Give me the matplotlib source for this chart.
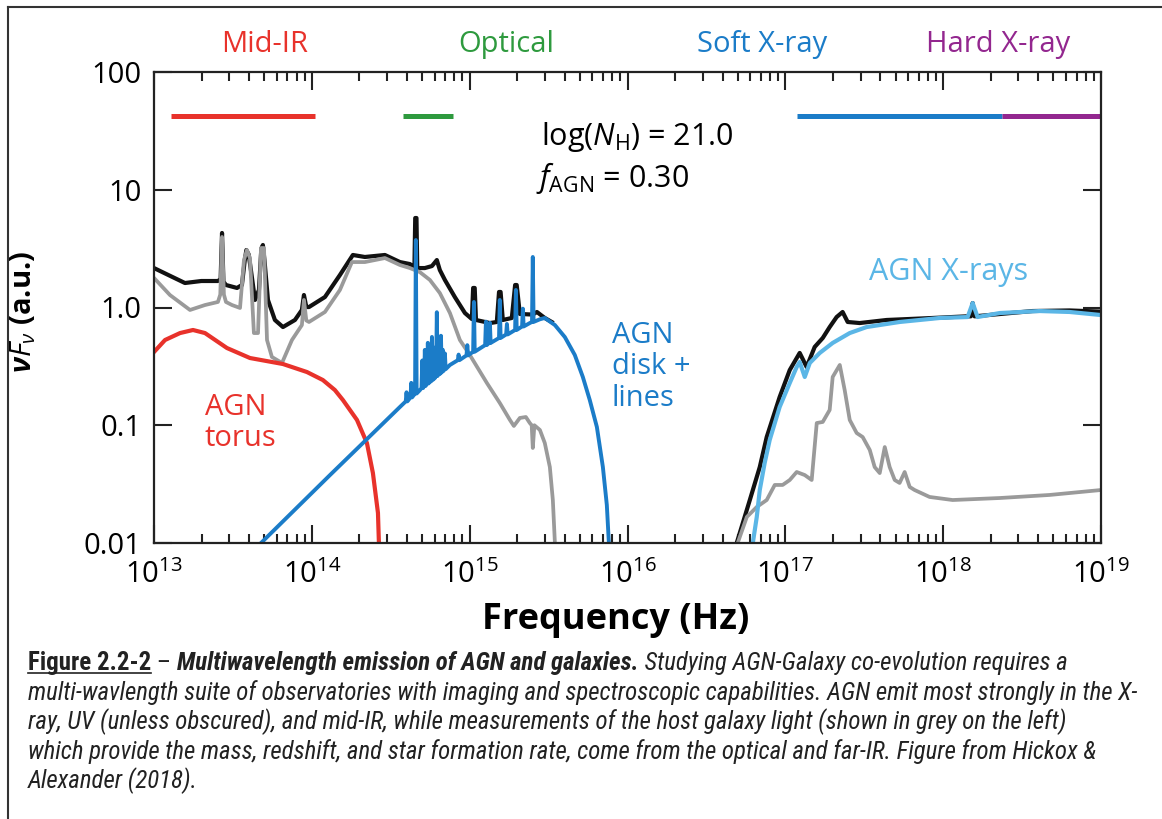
import matplotlib
matplotlib.use("Agg")
import matplotlib.pyplot as plt
import numpy as np
from matplotlib.lines import Line2D
from matplotlib import font_manager
from matplotlib.font_manager import FontProperties

plt.rcParams['font.family'] = ['Open Sans', 'DejaVu Sans']
plt.rcParams['mathtext.fontset'] = 'custom'
plt.rcParams['mathtext.rm'] = 'Open Sans'
plt.rcParams['mathtext.it'] = 'Open Sans:italic'
plt.rcParams['mathtext.bf'] = 'Open Sans:bold'
plt.rcParams['mathtext.bfit'] = 'Open Sans:italic:bold'

# ---- data: log10(frequency / Hz) and log10(nuFnu / a.u.) ----
# total SED (black), infrared-optical part
black_lo_nu = [13.000, 13.100, 13.196, 13.300, 13.405, 13.422, 13.431, 13.440, 13.456, 13.526,
               13.557, 13.575, 13.585, 13.600, 13.614, 13.640, 13.665, 13.680, 13.690, 13.700,
               13.722, 13.766, 13.817, 13.893, 13.937, 13.950, 13.965, 13.982, 14.083, 14.178,
               14.260, 14.336, 14.463, 14.558, 14.621, 14.650, 14.655, 14.663, 14.668, 14.716,
               14.761, 14.792, 14.811, 14.843, 14.906, 14.970, 15.014, 15.022, 15.032, 15.040,
               15.128, 15.172, 15.186, 15.196, 15.210, 15.267, 15.288, 15.298, 15.318, 15.400,
               15.426, 15.476, 15.520]
black_lo_f = [0.335, 0.270, 0.208, 0.225, 0.225, 0.240, 0.633, 0.220, 0.191, 0.166,
              0.191, 0.400, 0.488, 0.450, 0.318, 0.064, 0.150, 0.500, 0.531, 0.400,
              0.064, -0.106, -0.166, -0.106, -0.021, 0.106, 0.004, 0.004, 0.089, 0.276,
              0.446, 0.429, 0.446, 0.386, 0.369, 0.344, 0.760, 0.760, 0.335, 0.335,
              0.352, 0.403, 0.318, 0.234, 0.089, -0.047, -0.098, 0.166, 0.166, -0.106,
              -0.132, -0.123, 0.132, 0.132, -0.106, -0.089, 0.191, 0.191, -0.055, -0.060,
              -0.038, -0.089, -0.123]
# total SED (black), X-ray part
black_hi_nu = [16.680, 16.692, 16.775, 16.838, 16.882, 16.964, 17.028, 17.091, 17.135, 17.186,
               17.237, 17.281, 17.325, 17.363, 17.395, 17.471, 17.642, 17.933, 18.149, 18.175,
               18.187, 18.199, 18.567, 18.801, 19.000]
black_hi_f = [-2.10, -2.000, -1.635, -1.355, -1.100, -0.760, -0.531, -0.386, -0.505, -0.335,
              -0.259, -0.166, -0.081, -0.038, -0.123, -0.132, -0.106, -0.089, -0.075, -0.075,
              0.038, -0.075, -0.030, -0.025, -0.035]

# host galaxy (grey)
grey_lo_nu = [13.000, 13.101, 13.228, 13.323, 13.405, 13.420, 13.431, 13.443, 13.456, 13.494,
              13.545, 13.570, 13.589, 13.608, 13.633, 13.659, 13.678, 13.697, 13.716, 13.747,
              13.811, 13.874, 13.937, 13.950, 13.965, 13.982, 14.083, 14.178, 14.254, 14.336,
              14.463, 14.558, 14.621, 14.684, 14.748, 14.811, 14.875, 14.938, 15.001, 15.109,
              15.191, 15.255, 15.280, 15.318, 15.356, 15.381, 15.393, 15.400, 15.410, 15.445,
              15.476, 15.508, 15.527, 15.540, 15.545]
grey_lo_f = [0.251, 0.106, -0.021, 0.021, 0.047, 0.110, 0.599, 0.110, 0.047, 0.021,
             -0.004, 0.403, 0.488, 0.420, -0.217, -0.217, 0.505, 0.505, -0.276, -0.420,
             -0.471, -0.276, -0.149, 0.064, -0.110, -0.123, -0.038, 0.149, 0.386, 0.386,
             0.420, 0.361, 0.335, 0.301, 0.234, 0.123, -0.047, -0.276, -0.403, -0.641,
             -0.811, -0.955, -1.006, -0.938, -0.930, -0.981, -1.000, -1.193, -1.000, -1.040,
             -1.151, -1.355, -1.635, -2.000, -2.150]
grey_hi_nu = [16.686, 16.698, 16.756, 16.819, 16.882, 16.933, 16.983, 17.028, 17.072, 17.123,
              17.167, 17.199, 17.237, 17.281, 17.300, 17.345, 17.376, 17.408, 17.452, 17.490,
              17.535, 17.566, 17.598, 17.630, 17.661, 17.693, 17.724, 17.756, 17.788, 17.819,
              17.914, 18.060, 18.358, 18.674, 19.000]
grey_hi_f = [-2.10, -2.000, -1.779, -1.694, -1.635, -1.507, -1.507, -1.465, -1.397, -1.423,
             -1.465, -0.981, -0.972, -0.870, -0.590, -0.488, -0.701, -0.955, -1.066, -1.100,
             -1.210, -1.355, -1.406, -1.185, -1.355, -1.465, -1.490, -1.397, -1.524, -1.550,
             -1.609, -1.635, -1.618, -1.592, -1.550]

# AGN torus (red)
torus_nu = [13.000, 13.070, 13.165, 13.247, 13.323, 13.462, 13.608, 13.817, 13.969, 14.070,
            14.146, 14.197, 14.286, 14.349, 14.387, 14.419, 14.425, 14.430]
torus_f = [-0.378, -0.276, -0.217, -0.191, -0.217, -0.344, -0.429, -0.480, -0.548, -0.616,
           -0.701, -0.786, -0.955, -1.151, -1.406, -1.745, -2.000, -2.200]

# AGN accretion disk continuum (blue)
disk_nu = [13.640, 13.678, 14.115, 14.558, 14.685, 14.875, 15.128, 15.381, 15.445, 15.476,
           15.540, 15.603, 15.666, 15.717, 15.761, 15.806, 15.844, 15.869, 15.882, 15.888]
disk_f = [-2.050, -2.000, -1.423, -0.845, -0.701, -0.488, -0.301, -0.132, -0.100, -0.089,
          -0.149, -0.251, -0.403, -0.590, -0.786, -1.015, -1.355, -1.677, -2.000, -2.200]
# emission lines on top of the disk (position, peak)
line_nu = [14.600, 14.630, 14.659, 14.700, 14.716, 14.735, 14.750, 14.761, 14.772, 14.792,
           14.805, 14.818, 14.830, 14.843, 14.930, 14.985, 15.027, 15.103, 15.128, 15.191,
           15.236, 15.293, 15.337, 15.400]
line_f = [-0.720, -0.640, 0.573, -0.450, -0.360, -0.300, -0.380, -0.250, -0.340, -0.040,
          -0.300, -0.240, -0.360, -0.390, -0.400, -0.320, 0.047, -0.120, -0.130, 0.064,
          -0.140, 0.149, -0.010, 0.429]

# AGN X-ray (light blue)
xray_nu = [16.787, 16.794, 16.819, 16.838, 16.869, 16.901, 16.964, 17.028, 17.072, 17.091,
           17.123, 17.155, 17.218, 17.300, 17.408, 17.515, 17.724, 17.978, 18.155, 18.187,
           18.218, 18.358, 18.611, 18.801, 19.000]
xray_f = [-2.100, -2.000, -1.779, -1.550, -1.321, -1.125, -0.845, -0.641, -0.505, -0.463,
          -0.590, -0.471, -0.386, -0.301, -0.217, -0.166, -0.123, -0.089, -0.081, 0.038,
          -0.081, -0.047, -0.030, -0.038, -0.064]

# wavelength bands (log10 nu start, end)
bands = ["Mid-IR", "Optical", "Soft X-ray", "Hard X-ray"]
band_lo = [13.108, 14.577, 17.072, 18.370]
band_hi = [14.020, 14.894, 18.370, 19.000]
band_colors = ["#e8322b", "#2e9a3e", "#1b7cc8", "#93278f"]
band_label_nu = [13.70, 15.23, 16.85, 18.35]

xticks = [1e13, 1e14, 1e15, 1e16, 1e17, 1e18, 1e19]
yticks = [0.01, 0.1, 1.0, 10, 100]
yticklabels = ["0.01", "0.1", "1.0", "10", "100"]

c_black = "#111111"
c_grey = "#9a9a9a"
c_red = "#e8322b"
c_blue = "#1b7cc8"
c_lblue = "#5bb6e6"

# blue disk with emission lines inserted as narrow spikes
dn = np.array(disk_nu)
df = np.array(disk_f)
px = list(dn)
py = list(df)
w = 0.005
for ln, lf in zip(line_nu, line_f):
    base = np.interp(ln, dn, df)
    px += [ln - w, ln, ln + w]
    py += [base, lf, base]
order = np.argsort(px, kind="stable")
blue_x = np.array(px)[order]
blue_y = np.array(py)[order]

fig = plt.figure(figsize=(11.62, 8.19), dpi=100)
ax = fig.add_axes([154 / 1162, 1 - 543 / 819, 947 / 1162, 471 / 819])

def p(x, y, **kw):
    ax.plot(10 ** np.array(x), 10 ** np.array(y), solid_joinstyle="round", **kw)

p(black_lo_nu, black_lo_f, color=c_black, lw=3.0)
p(black_hi_nu, black_hi_f, color=c_black, lw=3.0)
p(grey_lo_nu, grey_lo_f, color=c_grey, lw=2.7)
p(grey_hi_nu, grey_hi_f, color=c_grey, lw=2.7)
p(torus_nu, torus_f, color=c_red, lw=3.0)
p(blue_x, blue_y, color=c_blue, lw=2.8)
p(xray_nu, xray_f, color=c_lblue, lw=3.0)

for lo, hi, c in zip(band_lo, band_hi, band_colors):
    ax.plot([10 ** lo, 10 ** hi], [42, 42], color=c, lw=3.6, solid_capstyle="butt", clip_on=False)
for name, xn, c in zip(bands, band_label_nu, band_colors):
    ax.text(10 ** xn, 1.058, name, transform=ax.get_xaxis_transform(), color=c,
            fontsize=21, ha="center", va="center")

ax.set_xscale("log")
ax.set_yscale("log")
ax.set_xlim(1e13, 1e19)
ax.set_ylim(0.01, 100)
minor = [m * d for d in xticks[:-1] for m in range(2, 10)]
ax.xaxis.set_major_locator(matplotlib.ticker.FixedLocator(xticks))
ax.xaxis.set_minor_locator(matplotlib.ticker.FixedLocator(minor))
ax.xaxis.set_minor_formatter(matplotlib.ticker.NullFormatter())
ax.set_yticks(yticks)
ax.set_yticklabels(yticklabels)
ax.yaxis.set_minor_locator(matplotlib.ticker.NullLocator())
ax.tick_params(which="both", direction="in", top=True, right=True, width=1.5, color="#222222")
ax.tick_params(which="major", length=13, labelsize=21)
ax.tick_params(which="minor", length=6.5)
ax.tick_params(axis="x", which="major", pad=12)
ax.tick_params(axis="y", which="major", pad=9)
for s in ax.spines.values():
    s.set_linewidth(1.6)
    s.set_color("#222222")

ax.set_xlabel("Frequency (Hz)", fontsize=26, fontweight="bold")
ax.xaxis.set_label_coords(0.487, -0.125)
ax.set_ylabel(r"$\boldsymbol{\nu F_{\nu}}$ (a.u.)", fontsize=21, fontweight="bold")
ax.yaxis.set_label_coords(-0.122, 0.49)

ax.text(10 ** 15.45, 10 ** 1.45, r"log($N_{\rm H}$) = 21.0", fontsize=22, va="center")
ax.text(10 ** 15.42, 10 ** 1.10, r"$f_{\rm AGN}$ = 0.30", fontsize=22, va="center")
ax.text(10 ** 13.32, 10 ** -0.98, "AGN\ntorus", color=c_red, fontsize=21, va="center",
        linespacing=1.1)
ax.text(10 ** 15.90, 10 ** -0.505, "AGN\ndisk +\nlines", color=c_blue, fontsize=21, va="center",
        linespacing=1.1)
ax.text(10 ** 17.53, 10 ** 0.30, "AGN X-rays", color=c_lblue, fontsize=22, va="center")

# page frame
fig.add_artist(Line2D([7.5 / 1162, 1.0], [1 - 6.5 / 819, 1 - 6.5 / 819], color="#333333", lw=1.5))
fig.add_artist(Line2D([7.5 / 1162, 7.5 / 1162], [0.0, 1 - 6.5 / 819], color="#333333", lw=1.5))

# caption
cap_lines = ["multi-wavlength suite of observatories with imaging and spectroscopic capabilities. AGN emit most strongly in the X-",
             "ray, UV (unless obscured), and mid-IR, while measurements of the host galaxy light (shown in grey on the left)",
             "which provide the mass, redshift, and star formation rate, come from the optical and far-IR. Figure from Hickox &",
             "Alexander (2018)."]

# pick a narrow family that also has bold faces, else Roboto
faces = {}
for f in font_manager.fontManager.ttflist:
    wt = f.weight if isinstance(f.weight, int) else font_manager.weight_dict.get(f.weight, 400)
    faces.setdefault(f.name, set()).add((f.style, wt >= 600))
cap_font = "Roboto"
for name in ["Liberation Sans Narrow", "Arial Narrow", "Roboto Condensed"] + sorted(faces):
    if ("Narrow" in name or "Condensed" in name) and name in faces:
        fs = faces[name]
        if ("italic", True) in fs and ("italic", False) in fs and ("normal", True) in fs:
            cap_font = name
            break

renderer = fig.canvas.get_renderer()
wpx, _, _ = renderer.get_text_width_height_descent(
    cap_lines[0], FontProperties(family=cap_font, style="italic", size=16), ismath=False)
cs = 16 * 1119 / wpx

x0 = 28 / 1162
y0 = 1 - 670 / 819
pieces = [("Figure 2.2-2", "bold", "normal"),
          (" \u2013 ", "normal", "normal"),
          ("Multiwavelength emission of AGN and galaxies.", "bold", "italic"),
          (" Studying AGN-Galaxy co-evolution requires a", "normal", "italic")]
xc = x0
for i, (s, wt, st) in enumerate(pieces):
    fig.text(xc, y0, s, fontsize=cs, fontweight=wt, fontstyle=st, family=cap_font,
             va="baseline", color="#222222")
    pw, _, _ = renderer.get_text_width_height_descent(
        s, FontProperties(family=cap_font, style=st, weight=wt, size=cs), ismath=False)
    if i == 0:
        fig.add_artist(Line2D([xc, xc + pw / 1162], [y0 - 3 / 819, y0 - 3 / 819],
                              color="#222222", lw=1.2))
    xc += pw / 1162

for k, s in enumerate(cap_lines):
    fig.text(x0, 1 - (700 + 29.5 * k) / 819, s, fontsize=cs, fontstyle="italic", family=cap_font,
             va="baseline", color="#222222")

fig.savefig("out.png", dpi=100)
